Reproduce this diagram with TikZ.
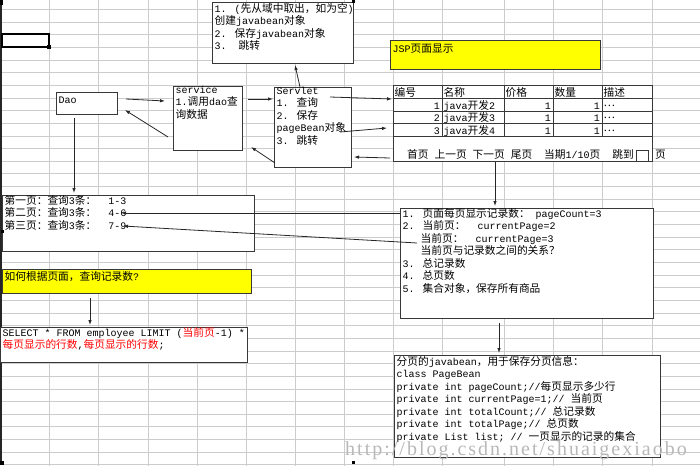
\documentclass[tikz,border=0pt]{standalone}
\usepackage{fontspec}
\setmainfont{Liberation Mono}
\newfontfamily\cjkfont{Noto Sans CJK SC}[Scale=1.07]
\newfontfamily\markfont{Liberation Serif}[LetterSpace=10]
\usepackage{tikz}
\usetikzlibrary{arrows.meta,calc}
\definecolor{gridln}{HTML}{CCCCCC}
\definecolor{hilite}{HTML}{FFFF00}
\definecolor{edge}{HTML}{383838}

% Chinese characters switch to the CJK font, Latin goes back to mono
\newXeTeXintercharclass\cjkcls
\count255="3000
\loop\XeTeXcharclass\count255=\cjkcls\ifnum\count255<"303F \advance\count255 1 \repeat
\count255="4E00
\loop\XeTeXcharclass\count255=\cjkcls\ifnum\count255<"9FFF \advance\count255 1 \repeat
\count255="FF00
\loop\XeTeXcharclass\count255=\cjkcls\ifnum\count255<"FFEF \advance\count255 1 \repeat
\XeTeXcharclass"2026=\cjkcls
\XeTeXinterchartokenstate=1
\XeTeXinterchartoks 0 \cjkcls={\cjkfont}
\XeTeXinterchartoks 4095 \cjkcls={\cjkfont}
\XeTeXinterchartoks \cjkcls 0={\rmfamily}
\XeTeXinterchartoks \cjkcls 4095={\rmfamily}

\begin{document}
\begin{tikzpicture}[x=1pt, y=-1pt,
  box/.style={draw=edge, line width=1pt, fill=white, anchor=north west, inner sep=0pt},
  note/.style={anchor=north west, align=left, inner xsep=2.5pt, inner ysep=0pt,
    font=\fontsize{10}{12.5}\selectfont, execute at begin node={\rule{0pt}{11pt}}},
  cell/.style={anchor=base west, inner sep=0pt, font=\fontsize{10}{12.5}\selectfont},
  arr/.style={draw=black!85, line width=0.8pt, -{Latex[length=5pt,width=3.5pt]}}]
  \useasboundingbox (0,0) rectangle (700,466);

  % spreadsheet grid
  \foreach \gx in {49,98,148,197,246,295,344,393,442,504,553,602,652}
    \draw[gridln, line width=1pt] (\gx,0) -- (\gx,466);
  \foreach \k in {0,...,36}
    \draw[gridln, line width=1pt] (0,{9.5+12.65*\k}) -- (700,{9.5+12.65*\k});
  \draw[black!85, line width=1.6pt] (1,0) -- (1,465);
  \draw[black, line width=2pt] (2,34) rectangle (49,47);
  \fill (47,45) rectangle (51,49);

  % Servlet steps
  \node[box, minimum width=141, minimum height=61] (steps) at (212,2) {};
  \node[note] (stepstxt) at ($(steps.north west)+(0,1)$)
    {1. (先从域中取出，如为空)\\创建javabean对象\\2. 保存javabean对象\\3.\hspace{12pt}跳转};

  % Dao, service, Servlet
  \node[box, minimum width=61, minimum height=22] (dao) at (56,92) {};
  \node[note] (daotxt) at (dao.north west) {Dao};
  \node[box, minimum width=69, minimum height=64] (service) at (173,86) {};
  \node[note] (servicetxt) at (service.north west) {service\\1.调用dao查\\询数据};
  \node[box, minimum width=77, minimum height=80] (servlet) at (274,87) {};
  \node[note] (servlettxt) at (servlet.north west)
    {Servlet\\1. 查询\\2. 保存\\pageBean对象\\3. 跳转};

  % JSP page
  \node[box, fill=hilite, minimum width=210, minimum height=29] (jsp) at (390,40) {};
  \node[note] (jsptxt) at ($(jsp.north west)+(0,1)$) {JSP页面显示};

  \node[box, minimum width=259, minimum height=76] (page) at (393,85) {};
  \foreach \ry in {98,111,123.5,136}
    \draw[edge, line width=1pt] (393,\ry) -- (652,\ry);
  \foreach \cx in {442,504,553,602}
    \draw[edge, line width=1pt] (\cx,85) -- (\cx,136);
  \foreach \cx/\lab [count=\i] in {393/编号,442/名称,504/价格,553/数量,602/描述}
    \node[cell] (head\i) at (\cx+1.5,96.5) {\lab};
  \foreach \num/\ry in {1/109,2/121.5,3/134} {
    \pgfmathtruncatemacro\ver{\num+1}
    \node[cell, anchor=base east] (num\num) at (440,\ry) {\num};
    \node[cell] (name\num) at (443.5,\ry) {java开发\ver};
    \node[cell, anchor=base east] (price\num) at (551,\ry) {1};
    \node[cell, anchor=base east] (qty\num) at (600,\ry) {1};
    \node[cell] (desc\num) at (603.5,\ry) {\raisebox{3pt}{…}};
  }
  \node[cell] (pager) at (407,158.5)
    {首页 上一页 下一页 尾页\hspace{12pt}当期1/10页\hspace{12pt}跳到};
  \node[box, minimum width=12, minimum height=11] (jumpbox) at (636,150) {};
  \node[cell] (pageword) at (655,158.5) {页};

  % left column
  \node[box, minimum width=252, minimum height=56] (pages) at (2,195) {};
  \node[note] (pagestxt) at (pages.north west)
    {第一页：查询3条：\hspace{12pt}1-3\\第二页：查询3条：\hspace{12pt}4-6\\第三页：查询3条：\hspace{12pt}7-9};
  \node[box, fill=hilite, minimum width=249, minimum height=24] (question) at (2,269) {};
  \node[note] (questiontxt) at (question.north west) {如何根据页面，查询记录数?};
  \node[box, minimum width=247, minimum height=35] (sql) at (0,327) {};
  \node[note] (sqltxt) at (sql.north west)
    {SELECT * FROM employee LIMIT (\textcolor{red}{当前页}-1) *\\\textcolor{red}{每页显示的行数},\textcolor{red}{每页显示的行数};};

  % right column
  \node[box, minimum width=253, minimum height=110] (info) at (400,208) {};
  \node[note] (infotxt) at (info.north west)
    {1. 页面每页显示记录数： pageCount=3\\2. 当前页：\hspace{12pt}currentPage=2\\
     \hspace*{18pt}当前页：\hspace{12pt}currentPage=3\\\hspace*{18pt}当前页与记录数之间的关系？\\
     3. 总记录数\\4. 总页数\\5. 集合对象，保存所有商品};
  \node[box, minimum width=266, minimum height=102] (bean) at (394,355) {};
  \node[note] (beantxt) at ($(bean.north west)+(0,1)$)
    {分页的javabean，用于保存分页信息：\\class PageBean\\private int pageCount;//每页显示多少行\\
     private int currentPage=1;// 当前页\\private int totalCount;// 总记录数\\
     private int totalPage;// 总页数\\private List list; // 一页显示的记录的集合};

  % arrows
  \draw[arr] ($(dao.north east)+(8,7)$) -- ($(service.north west)+(-8,15)$);
  \draw[arr] ($(service.north west)+(-5,51)$) -- ($(dao.south east)+(7,-5)$);
  \draw[arr] ($(service.north east)+(5,13)$) -- ($(servlet.north west)+(-1,12)$);
  \draw[arr] ($(servlet.south west)+(1,-5)$) -- ($(service.south east)+(8,-4)$);
  \draw[arr] ($(servlet.north west)+(26,0)$) -- ($(steps.south west)+(83,1)$);
  \draw[arr] ($(servlet.north west)+(56,10)$) -- ($(page.north west)+(-1,14)$);
  \draw[arr] ($(servlet.north west)+(66,45)$) -- ($(page.north west)+(-6,43)$);
  \draw[arr] ($(page.south west)+(-3,-4)$) -- ($(servlet.north east)+(2,70)$);
  \draw[arr] ($(dao.south west)+(18,3)$) -- ($(pages.north west)+(72,-2)$);
  \draw[arr] ($(page.south west)+(102,0)$) -- ($(info.north west)+(95,-2)$);
  \draw[arr] ($(info.south west)+(99,4)$) -- ($(bean.north west)+(105,-2)$);
  \draw[arr] ($(info.north west)+(0,5)$) -- ($(pages.north west)+(119,18)$);
  \draw[arr] ($(info.north west)+(17,35)$) -- ($(pages.north west)+(121,31)$);
  \draw[arr] ($(question.south west)+(88,4)$) -- ($(sql.north west)+(90,-2)$);

  % selection handles and watermark
  \fill (0,0) rectangle (3,5);
  \fill (352,0) rectangle (355,3);
  \fill (1,230) rectangle (4,233);
  \fill (0,461) rectangle (4,465);
  \fill (352,461) rectangle (355,464);
  \node[anchor=base west, inner sep=0pt, text=black!28, font=\markfont\fontsize{20}{20}\selectfont]
    (mark) at (345,455) {http://blog.csdn.net/shuaigexiaobo};
\end{tikzpicture}
\end{document}
